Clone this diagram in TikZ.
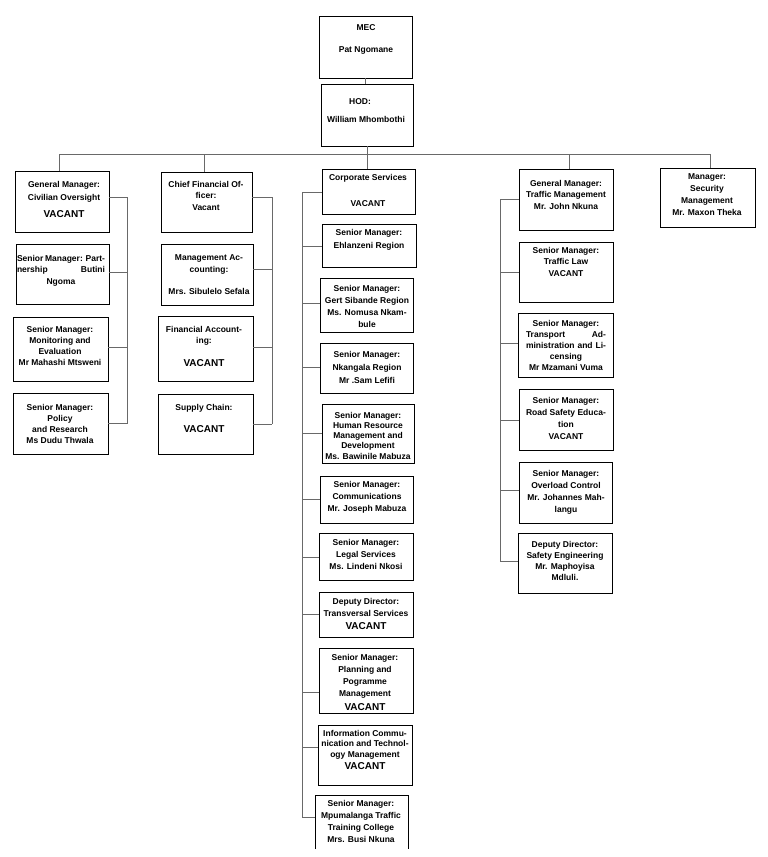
\documentclass[tikz,border=0pt]{standalone}
\usepackage{fontspec}
\setmainfont{Liberation Sans}
\definecolor{linegray}{RGB}{105,105,105}
\newcommand\orgbox[5]{\node[box, minimum width={(#4-#2)*1pt}, minimum height={(#5-#3)*1pt}] (#1) at ({(#2+#4)/2},{(#3+#5)/2}) {};}
\newcommand\orgtext[5]{\node[txt, font=\bfseries\fontsize{8.5}{#4}\selectfont] (#1) at (#2,{#3-6.3}) {#5};}
\newcommand\vac{{\fontsize{10}{12}\selectfont VACANT}}
\newcommand\rbranch[4]{\draw[conn] ([yshift=#2pt]#1.east) -- ++(#3,0) coordinate (#4);}
\newcommand\lbranch[4]{\draw[conn] ([yshift=#2pt]#1.west) -- ++(-#3,0) coordinate (#4);}
\begin{document}
\begin{tikzpicture}[x=1pt,y=-1pt,
  box/.style={draw=black, line width=0.8pt, inner sep=0pt, outer sep=0pt},
  openbox/.style={draw=black, line width=0.8pt},
  conn/.style={draw=linegray, line width=0.8pt},
  txt/.style={align=center, inner sep=0pt, anchor=north}]
\path[fill=white, use as bounding box] (0,0) rectangle (768,857);

% ---------- boxes ----------
\orgbox{MEC}{319}{16}{412}{78}
\orgbox{HOD}{321}{84}{413}{146}
% column 1
\orgbox{GMC}{15}{171}{109}{232}
\orgbox{SMP}{16}{244}{109}{304}
\orgbox{SMM}{13}{317}{108}{381}
\orgbox{POL}{13}{393}{108}{454}
% column 2
\orgbox{CFO}{161}{172}{252}{232}
\orgbox{MAC}{161}{244}{253}{305}
\orgbox{FAC}{158}{316}{253}{381}
\orgbox{SUP}{158}{394}{253}{454}
% column 3
\orgbox{CS}{322}{169}{415}{214}
\orgbox{EHL}{322}{224}{416}{267}
\orgbox{GERT}{320}{278}{413}{332}
\orgbox{NK}{320}{343}{413}{393}
\orgbox{HR}{322}{404}{414}{463}
\orgbox{COM}{320}{476}{413}{523}
\orgbox{LEG}{319}{533}{413}{580}
\orgbox{TRV}{319}{592}{413}{637}
\orgbox{PLN}{319}{648}{413}{713}
\orgbox{ICT}{318}{725}{412}{785}
\node[inner sep=0pt, outer sep=0pt, minimum width=93pt, minimum height=54pt] (MPU) at (361.5,822) {};
\draw[openbox] (MPU.south west) |- (MPU.north east) -- (MPU.south east);
% column 4
\orgbox{GMT}{519}{169}{613}{230}
\orgbox{TL}{519}{242}{613}{302}
\orgbox{TA}{518}{313}{613}{377}
\orgbox{RS}{519}{389}{613}{450}
\orgbox{OL}{519}{462}{612}{523}
\orgbox{DS}{518}{533}{612}{593}
% column 5
\orgbox{SEC}{660}{168}{755}{227}

% ---------- texts ----------
\orgtext{MECt}{366}{31}{22}{MEC\\Pat Ngomane}
\orgtext{HODt}{366}{105}{18}{HOD:\hspace*{12pt}\\William Mhombothi}

\orgtext{GMCt}{64}{187}{13}{General Manager:\\Civilian Oversight\\[4.6pt]\vac}
\orgtext{SMPt}{61}{261}{11.5}{\makebox[88pt][s]{Senior Manager: Part-}\\\makebox[88pt]{nership\hfill Butini}\\Ngoma}
\orgtext{SMMt}{60}{332}{11.3}{Senior Manager:\\Monitoring and\\Evaluation\\Mr Mahashi Mtsweni}
\orgtext{POLt}{60}{410}{11}{Senior Manager:\\Policy\\and Research\\Ms Dudu Thwala}

\orgtext{CFOt}{206}{187}{11.5}{Chief Financial Of-\\ficer:\\Vacant}
\orgtext{MACt}{209}{261}{11.3}{Management Ac-\\counting:\\[11.3pt]Mrs. Sibulelo Sefala}
\orgtext{FACt}{204}{332}{11.5}{Financial Account-\\ing:\\[11.6pt]\vac}
\orgtext{SUPt}{204}{410}{11}{Supply Chain:\\[11.6pt]\vac}

\orgtext{CSt}{368}{180}{11}{Corporate Services\\[15pt]VACANT}
\orgtext{EHLt}{369}{235}{13}{Senior Manager:\\Ehlanzeni Region}
\orgtext{GERTt}{367}{291}{12.3}{Senior Manager:\\Gert Sibande Region\\Ms. Nomusa Nkam-\\bule}
\orgtext{NKt}{367}{357}{13}{Senior Manager:\\Nkangala Region\\Mr .Sam Lefifi}
\orgtext{HRt}{368}{418}{10.25}{Senior Manager:\\Human Resource\\Management and\\Development\\Ms. Bawinile Mabuza}
\orgtext{COMt}{367}{487}{12}{Senior Manager:\\Communications\\Mr. Joseph Mabuza}
\orgtext{LEGt}{366}{545}{12}{Senior Manager:\\Legal Services\\Ms. Lindeni Nkosi}
\orgtext{TRVt}{366}{604}{12}{Deputy Director:\\Transversal Services\\[1.6pt]\vac}
\orgtext{PLNt}{365}{660}{12.3}{Senior Manager:\\Planning and\\Pogramme\\Management\\[1.4pt]\vac}
\orgtext{ICTt}{365}{736}{10.5}{Information Commu-\\nication and Technol-\\ogy Management\\[2.1pt]\vac}
\orgtext{MPUt}{361}{806}{12.3}{Senior Manager:\\Mpumalanga Traffic\\Training College\\Mrs. Busi Nkuna}

\orgtext{GMTt}{566}{186}{11.5}{General Manager:\\Traffic Management\\Mr. John Nkuna}
\orgtext{TLt}{566}{253}{11.5}{Senior Manager:\\Traffic Law\\VACANT}
\orgtext{TAt}{566}{326}{11}{Senior Manager:\\\makebox[80pt]{Transport\hfill Ad-}\\\makebox[80pt][s]{ministration and Li-}\\censing\\Mr Mzamani Vuma}
\orgtext{RSt}{566}{403}{12.3}{Senior Manager:\\Road Safety Educa-\\tion\\VACANT}
\orgtext{OLt}{566}{476}{12}{Senior Manager:\\Overload Control\\Mr. Johannes Mah-\\langu}
\orgtext{DSt}{565}{547}{11.3}{Deputy Director:\\Safety Engineering\\Mr. Maphoyisa\\Mdluli.}
\orgtext{SECt}{707}{180}{12}{Manager:\\Security\\Management\\Mr. Maxon Theka}

% ---------- connectors ----------
\draw[conn] (MEC.south) -- (MEC.south |- HOD.north);
\draw[conn] (HOD.south) -- (HOD.south |- CS.north);
\draw[conn] ([xshift=-3pt]GMC.north) -- ++(0,-17) coordinate (busL);
\draw[conn] ([xshift=2.5pt]SEC.north) -- ++(0,-14) coordinate (busR);
\draw[conn] (busL) -- (busR);
\draw[conn] ([xshift=-2.5pt]CFO.north) -- ++(0,-18);
\draw[conn] ([xshift=3pt]GMT.north) -- ++(0,-15);

% column 1 rail
\rbranch{GMC}{4.5}{18}{r1a}
\rbranch{SMP}{2}{18}{r1b}
\rbranch{SMM}{2}{19}{r1c}
\rbranch{POL}{0}{19}{r1d}
\draw[conn] (r1a) -- (r1d);
% column 2 rail
\rbranch{CFO}{5}{20}{r2a}
\rbranch{MAC}{5.5}{19}{r2b}
\rbranch{FAC}{1.5}{19}{r2c}
\rbranch{SUP}{0}{19}{r2d}
\draw[conn] (r2a) -- (r2d);
% column 3 rail
\lbranch{CS}{-0.5}{20}{r3a}
\lbranch{EHL}{-0.5}{20}{r3b}
\lbranch{GERT}{2}{18}{r3c}
\lbranch{NK}{1}{18}{r3d}
\lbranch{HR}{0.5}{20}{r3e}
\lbranch{COM}{0.5}{18}{r3f}
\lbranch{LEG}{-0.5}{17}{r3g}
\lbranch{TRV}{0.5}{17}{r3h}
\lbranch{PLN}{-11.5}{17}{r3i}
\lbranch{ICT}{8}{16}{r3j}
\lbranch{MPU}{5}{13}{r3k}
\draw[conn] (r3a) -- (r3k);
% column 4 rail
\lbranch{GMT}{0.5}{19}{r4a}
\lbranch{TL}{0}{19}{r4b}
\lbranch{TA}{2}{18}{r4c}
\lbranch{RS}{-0.5}{19}{r4d}
\lbranch{OL}{2.5}{19}{r4e}
\lbranch{DS}{2}{18}{r4f}
\draw[conn] (r4a) -- (r4f);
\end{tikzpicture}
\end{document}
